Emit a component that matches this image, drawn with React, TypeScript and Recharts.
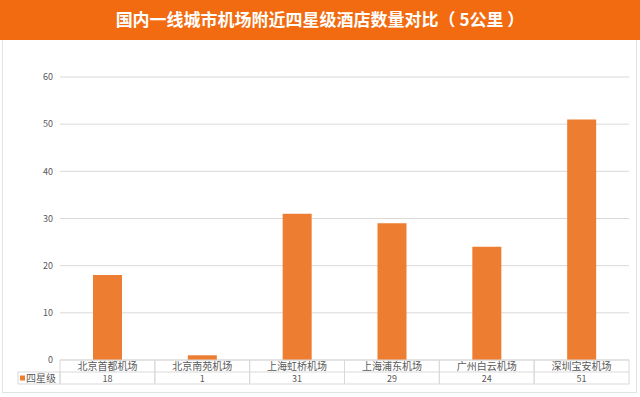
import { BarChart, Bar, XAxis, YAxis, CartesianGrid } from 'recharts'

const airports = ['北京首都机场', '北京南苑机场', '上海虹桥机场', '上海浦东机场', '广州白云机场', '深圳宝安机场']
const fourStar = [18, 1, 31, 29, 24, 51]
const yTicks = [0, 10, 20, 30, 40, 50, 60]
const seriesName = '四星级'
const title = '国内一线城市机场附近四星级酒店数量对比（ 5公里 ）'

const data = airports.map((name, i) => ({ name, value: fourStar[i] }))

const FONT = '"Noto Sans CJK SC", "Noto Sans", sans-serif'
const BAR = '#ED7D31'
const LINE = '#d9d9d9'

// draws one column of the data table under the axis
function TableTick(props: any) {
  const { x, y, payload, index, width, visibleTicksCount } = props
  const w = width && visibleTicksCount ? width / visibleTicksCount : 94.8
  const left = x - w / 2
  const right = x + w / 2
  return (
    <g>
      <line x1={left} y1={y} x2={left} y2={y + 24} stroke={LINE} />
      <line x1={right} y1={y} x2={right} y2={y + 24} stroke={LINE} />
      <line x1={left} y1={y + 12} x2={right} y2={y + 12} stroke={LINE} />
      <line x1={left} y1={y + 24} x2={right} y2={y + 24} stroke={LINE} />
      <text x={x} y={y + 10} textAnchor="middle" fontSize={10} fill="#595959" fontFamily={FONT}>
        {payload.value}
      </text>
      <text x={x} y={y + 22} textAnchor="middle" fontSize={9} fill="#595959" fontFamily={FONT}>
        {fourStar[index]}
      </text>
      {index === 0 && (
        <g>
          <rect x={18} y={y + 12} width={left - 18} height={12} fill="none" stroke={LINE} />
          <rect x={20} y={y + 15.5} width={5} height={5} fill={BAR} />
          <text x={26} y={y + 22} fontSize={10} fill="#595959" fontFamily={FONT}>
            {seriesName}
          </text>
        </g>
      )}
    </g>
  )
}

export default function App() {
  return (
    <div style={{ position: 'absolute', left: 0, top: 0, width: 640, height: 397, background: '#fff', overflow: 'hidden' }}>
      <div
        style={{
          position: 'absolute', left: 0, top: 0, width: 640, height: 40, background: '#F26B11',
          color: '#fff', fontFamily: FONT, fontWeight: 700, fontSize: 17, lineHeight: '38px', textAlign: 'center',
        }}
      >
        {title}
      </div>
      <div style={{ position: 'absolute', left: 2, top: 40, width: 633, height: 352, border: '1px solid #e3e3e3', borderTop: 'none' }} />
      <div style={{ position: 'absolute', left: 0, top: 0 }}>
        <BarChart width={640} height={397} data={data} margin={{ top: 77, right: 11, left: 30, bottom: 12 }}>
          <CartesianGrid vertical={false} stroke={LINE} />
          <XAxis
            dataKey="name"
            height={25}
            interval={0}
            tickLine={false}
            tickSize={0}
            tickMargin={0}
            axisLine={{ stroke: LINE }}
            tick={<TableTick />}
          />
          <YAxis
            width={30}
            domain={[0, 60]}
            ticks={yTicks}
            axisLine={false}
            tickLine={false}
            tickSize={0}
            tickMargin={7}
            tick={{ fontSize: 9, fill: '#595959', fontFamily: FONT }}
          />
          <Bar dataKey="value" fill={BAR} barSize={29} isAnimationActive={false} />
        </BarChart>
      </div>
    </div>
  )
}
